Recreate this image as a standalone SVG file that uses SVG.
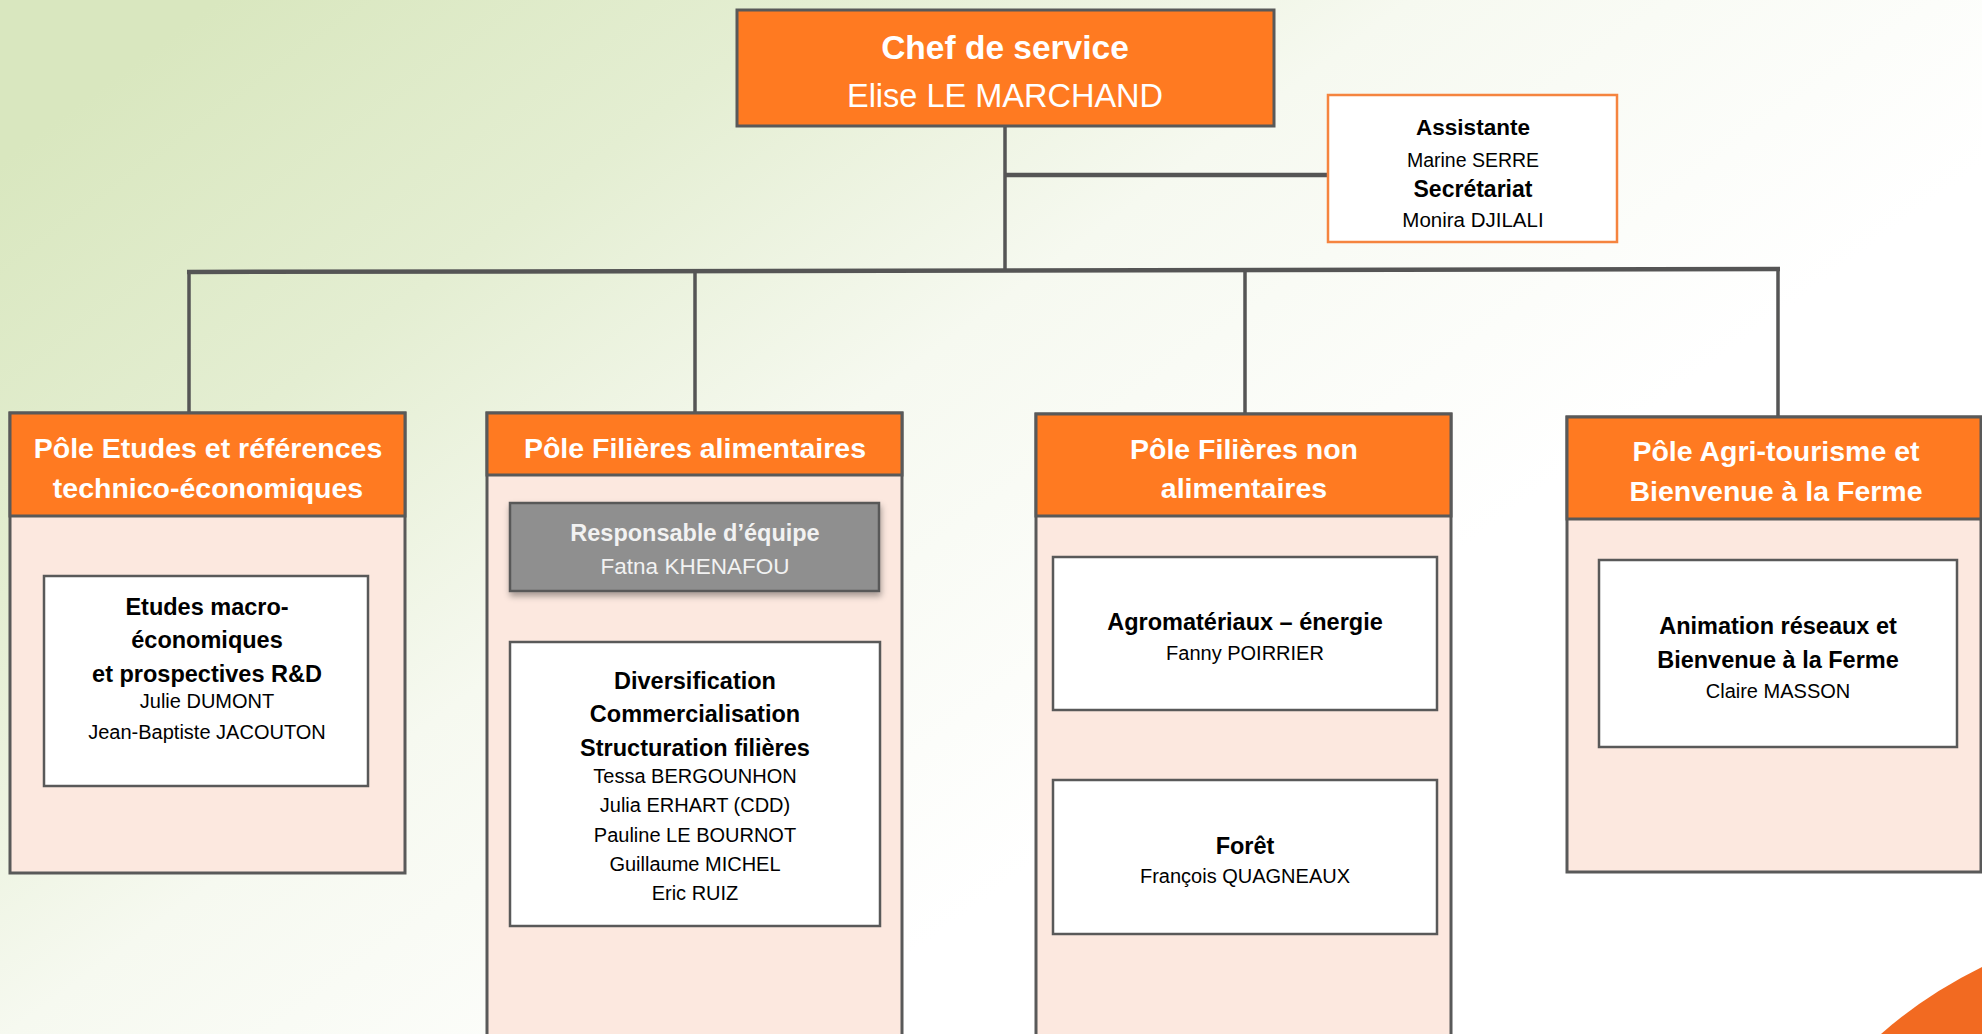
<svg xmlns="http://www.w3.org/2000/svg" width="1982" height="1034" viewBox="0 0 1982 1034">
  <defs>
    <linearGradient id="bg" gradientUnits="userSpaceOnUse" x1="150" y1="50" x2="850" y2="1000">
      <stop offset="0" stop-color="#D9E7BF"/>
      <stop offset="0.3" stop-color="#E4EED2"/>
      <stop offset="0.6" stop-color="#F6F9F0"/>
      <stop offset="1" stop-color="#FFFFFF"/>
    </linearGradient>
    <filter id="shadow" x="-10%" y="-20%" width="120%" height="160%">
      <feDropShadow dx="1" dy="4" stdDeviation="3" flood-color="#000000" flood-opacity="0.35"/>
    </filter>
    <style>
      text { font-family: "Liberation Sans", Arial, sans-serif; text-anchor: middle; }
      .hdr { fill: #FF7A21; stroke: #595959; stroke-width: 3; }
      .body { fill: #FCE8DF; stroke: #595959; stroke-width: 3; }
      .inner { fill: #FFFFFF; stroke: #595959; stroke-width: 2.5; }
      .conn { stroke: #555555; stroke-width: 3.5; fill: none; }
      .main { stroke: #555555; stroke-width: 4.5; fill: none; }
      .ht { fill: #FFFFFF; font-weight: bold; font-size: 28.5px; }
      .b { fill: #000000; font-weight: bold; font-size: 23.5px; }
      .r { fill: #000000; font-size: 20px; }
    </style>
  </defs>

  <rect x="0" y="0" width="1982" height="1034" fill="url(#bg)"/>
  <path d="M1881,1034 Q1925,995 1982,967 L1982,1034 Z" fill="#F26A21"/>

  <g id="connectors">
    <line class="conn" x1="1005" y1="126" x2="1005" y2="271"/>
    <line class="main" x1="1005" y1="175" x2="1328" y2="175"/>
    <line class="main" x1="187" y1="272" x2="1780" y2="269"/>
    <line class="conn" x1="189" y1="272" x2="189" y2="413"/>
    <line class="conn" x1="695" y1="271" x2="695" y2="413"/>
    <line class="conn" x1="1245" y1="270" x2="1245" y2="414"/>
    <line class="conn" x1="1778" y1="269" x2="1778" y2="417"/>
  </g>

  <g id="chef">
    <rect x="737" y="10" width="537" height="116" fill="#FF7A21" stroke="#595959" stroke-width="3"/>
    <text x="1005" y="59" fill="#FFFFFF" font-weight="bold" font-size="33.5px">Chef de service</text>
    <text x="1005" y="107" fill="#FFFFFF" font-size="32.5px">Elise LE MARCHAND</text>
  </g>

  <g id="assistante">
    <rect x="1328" y="95" width="289" height="147" fill="#FFFFFF" stroke="#F5843F" stroke-width="2.5"/>
    <text x="1473" y="135" font-weight="bold" font-size="22.5px" fill="#000">Assistante</text>
    <text x="1473" y="167" font-size="19.5px" fill="#000">Marine SERRE</text>
    <text x="1473" y="197" font-weight="bold" font-size="23px" fill="#000">Secrétariat</text>
    <text x="1473" y="227" font-size="20.5px" fill="#000">Monira DJILALI</text>
  </g>

  <g id="pole-etudes">
    <rect class="body" x="10" y="413" width="395" height="460"/>
    <rect class="hdr" x="10" y="413" width="395" height="103"/>
    <text class="ht" x="208" y="458">Pôle Etudes et références</text>
    <text class="ht" x="208" y="498">technico-économiques</text>
  </g>
  <g id="etudes-macro">
    <rect class="inner" x="44" y="576" width="324" height="210"/>
    <text class="b" x="207" y="615">Etudes macro-</text>
    <text class="b" x="207" y="648">économiques</text>
    <text class="b" x="207" y="682">et prospectives R&amp;D</text>
    <text class="r" x="207" y="708">Julie DUMONT</text>
    <text class="r" x="207" y="739">Jean-Baptiste JACOUTON</text>
  </g>

  <g id="pole-filieres-alimentaires">
    <rect class="body" x="487" y="413" width="415" height="640"/>
    <rect class="hdr" x="487" y="413" width="415" height="62"/>
    <text class="ht" x="695" y="458">Pôle Filières alimentaires</text>
  </g>
  <g id="responsable">
    <rect x="510" y="503" width="369" height="88" fill="#8F8F8F" stroke="#595959" stroke-width="2.5" filter="url(#shadow)"/>
    <text x="695" y="541" fill="#F2F2F2" font-weight="bold" font-size="23.5px">Responsable d’équipe</text>
    <text x="695" y="574" fill="#F2F2F2" font-size="22.5px">Fatna KHENAFOU</text>
  </g>
  <g id="diversification">
    <rect class="inner" x="510" y="642" width="370" height="284"/>
    <text class="b" x="695" y="689">Diversification</text>
    <text class="b" x="695" y="722">Commercialisation</text>
    <text class="b" x="695" y="756">Structuration filières</text>
    <text class="r" x="695" y="783">Tessa BERGOUNHON</text>
    <text class="r" x="695" y="812">Julia ERHART (CDD)</text>
    <text class="r" x="695" y="842">Pauline LE BOURNOT</text>
    <text class="r" x="695" y="871">Guillaume MICHEL</text>
    <text class="r" x="695" y="900">Eric RUIZ</text>
  </g>

  <g id="pole-filieres-non-alimentaires">
    <rect class="body" x="1036" y="414" width="415" height="640"/>
    <rect class="hdr" x="1036" y="414" width="415" height="102"/>
    <text class="ht" x="1244" y="459">Pôle Filières non</text>
    <text class="ht" x="1244" y="498">alimentaires</text>
  </g>
  <g id="agromateriaux">
    <rect class="inner" x="1053" y="557" width="384" height="153"/>
    <text class="b" x="1245" y="630">Agromatériaux – énergie</text>
    <text class="r" x="1245" y="660">Fanny POIRRIER</text>
  </g>
  <g id="foret">
    <rect class="inner" x="1053" y="780" width="384" height="154"/>
    <text class="b" x="1245" y="854">Forêt</text>
    <text class="r" x="1245" y="883">François QUAGNEAUX</text>
  </g>

  <g id="pole-agritourisme">
    <rect class="body" x="1567" y="417" width="414" height="455"/>
    <rect class="hdr" x="1567" y="417" width="414" height="102"/>
    <text class="ht" x="1776" y="461">Pôle Agri-tourisme et</text>
    <text class="ht" x="1776" y="501">Bienvenue à la Ferme</text>
  </g>
  <g id="animation">
    <rect class="inner" x="1599" y="560" width="358" height="187"/>
    <text class="b" x="1778" y="634">Animation réseaux et</text>
    <text class="b" x="1778" y="668">Bienvenue à la Ferme</text>
    <text class="r" x="1778" y="698">Claire MASSON</text>
  </g>
</svg>
